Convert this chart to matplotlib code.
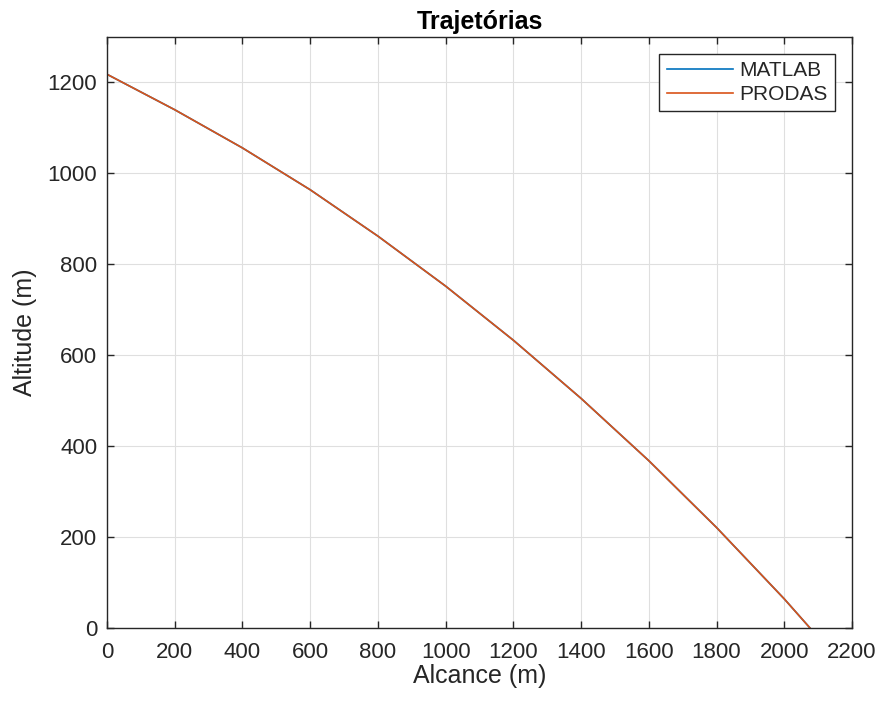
import matplotlib
matplotlib.use('Agg')
import matplotlib.pyplot as plt

# alcance (m) e altitude (m)
alcance = [0, 200, 400, 600, 800, 1000, 1200, 1400, 1600, 1800, 2000, 2076]
alt_matlab = [1218, 1140, 1056, 964, 862, 752, 633, 505, 368, 221, 64, 0]
alt_prodas = [1218, 1140, 1056, 964, 862, 752, 633, 505, 368, 221, 64, 0]

xticks = list(range(0, 2201, 200))
yticks = list(range(0, 1201, 200))

plt.rcParams['font.family'] = ['Liberation Sans', 'DejaVu Sans']
cor_txt = '#262626'

fig = plt.figure(figsize=(8.83, 7.04), dpi=100)
ax = fig.add_axes([107/883, 76/704, 745/883, 591/704])

ax.plot(alcance, alt_matlab, color='#0072BD', lw=1.2, label='MATLAB')
ax.plot(alcance, alt_prodas, color='#D95319', lw=1.2, label='PRODAS')

ax.set_xlim(0, 2200)
ax.set_ylim(0, 1300)
ax.set_xticks(xticks)
ax.set_yticks(yticks)
ax.grid(True, color='#dfdfdf', lw=0.8)
ax.set_axisbelow(True)
ax.tick_params(direction='in', top=True, right=True, length=5, width=1,
               labelsize=16, colors=cor_txt)
ax.tick_params(axis='x', pad=10)
ax.tick_params(axis='y', pad=7)
for s in ax.spines.values():
    s.set_color(cor_txt)
    s.set_linewidth(1)

ax.set_title('Trajetórias', fontsize=18, fontweight='bold', color='black', pad=6)
ax.set_xlabel('Alcance (m)', fontsize=18, color=cor_txt, labelpad=1)
ax.set_ylabel('Altitude (m)', fontsize=18, color=cor_txt, labelpad=8)

leg = ax.legend(loc='upper right', fontsize=15, handlelength=3.2, fancybox=False,
                framealpha=1, edgecolor=cor_txt, borderaxespad=0.8,
                labelspacing=0.25, handletextpad=0.3, borderpad=0.35)
leg.get_frame().set_linewidth(1)
for t in leg.get_texts():
    t.set_color(cor_txt)

plt.savefig('out.png', dpi=100)
